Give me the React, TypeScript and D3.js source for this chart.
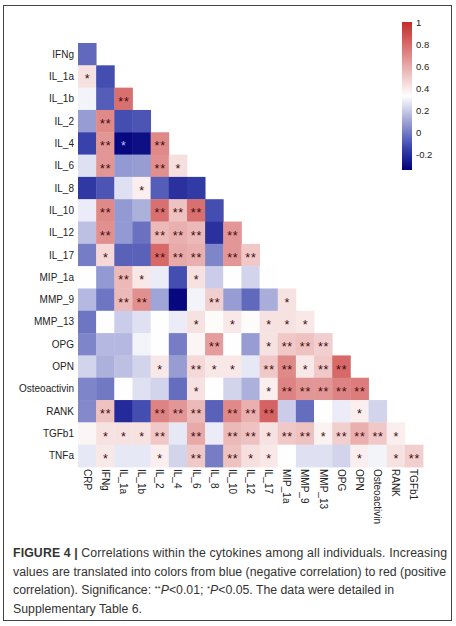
import * as d3 from 'd3';

// variable names, order as in the figure
const vars = [
  'CRP', 'IFNg', 'IL_1a', 'IL_1b', 'IL_2', 'IL_4', 'IL_6', 'IL_8', 'IL_10', 'IL_12',
  'IL_17', 'MIP_1a', 'MMP_9', 'MMP_13', 'OPG', 'OPN', 'Osteoactivin', 'RANK', 'TGFb1', 'TNFa',
];

// lower triangle, row i (vars[i + 1]) has i + 1 values against vars[0..i]
const corrRows: number[][] = [
  [-0.05],
  [0.42, -0.12],
  [0.3, -0.08, 0.78],
  [0.08, 0.7, -0.12, -0.1],
  [-0.15, 0.66, -0.32, -0.3, 0.7],
  [0.25, 0.66, 0.07, 0.08, 0.68, 0.43],
  [-0.18, -0.1, 0.25, 0.38, -0.08, -0.2, -0.17],
  [0.28, 0.7, 0.07, 0.13, 0.78, 0.52, 0.78, -0.12],
  [0.17, 0.68, 0.07, -0.03, 0.55, 0.58, 0.55, -0.2, 0.66],
  [0.0, 0.45, -0.07, -0.07, 0.8, 0.6, 0.58, 0.02, 0.66, 0.5],
  [0.33, 0.07, 0.55, 0.4, 0.28, -0.12, 0.42, 0.2, 0.33, 0.22, 0.33],
  [0.15, -0.02, 0.55, 0.68, 0.1, -0.32, 0.3, 0.48, 0.08, -0.05, 0.12, 0.42],
  [-0.02, 0.33, 0.2, 0.25, 0.33, 0.28, 0.42, 0.34, 0.4, 0.34, 0.42, 0.42, 0.4],
  [0.02, 0.15, 0.15, 0.3, 0.33, 0.0, 0.36, 0.64, 0.33, 0.08, 0.42, 0.5, 0.52, 0.48],
  [0.22, 0.13, 0.17, 0.22, 0.4, 0.08, 0.45, 0.4, 0.4, 0.27, 0.5, 0.7, 0.4, 0.5, 0.8],
  [0.02, -0.01, 0.33, 0.25, 0.22, -0.04, 0.42, 0.33, 0.22, 0.13, 0.38, 0.72, 0.66, 0.66, 0.72, 0.74],
  [0.03, 0.52, -0.22, -0.12, 0.72, 0.66, 0.55, -0.07, 0.7, 0.58, 0.82, 0.2, -0.04, 0.33, 0.28, 0.38, 0.22],
  [0.36, 0.42, 0.42, 0.42, 0.5, 0.27, 0.6, 0.28, 0.55, 0.52, 0.42, 0.5, 0.52, 0.37, 0.48, 0.58, 0.5, 0.38],
  [0.27, 0.4, 0.27, 0.27, 0.38, 0.22, 0.5, 0.0, 0.52, 0.43, 0.4, 0.33, 0.25, 0.25, 0.22, 0.38, 0.3, 0.42, 0.48],
];

// significance marks, same layout
const sigRows: string[][] = [
  [''],
  ['*', ''],
  ['', '', '**'],
  ['', '**', '', ''],
  ['', '**', '*', '', '**'],
  ['', '**', '', '', '**', '*'],
  ['', '', '', '*', '', '', ''],
  ['', '**', '', '', '**', '**', '**', ''],
  ['', '**', '', '', '**', '**', '**', '', '**'],
  ['', '*', '', '', '**', '**', '**', '', '**', '**'],
  ['', '', '**', '*', '', '', '*', '', '', '', ''],
  ['', '', '**', '**', '', '', '', '**', '', '', '', '*'],
  ['', '', '', '', '', '', '*', '', '*', '', '*', '*', '*'],
  ['', '', '', '', '', '', '', '**', '', '', '*', '**', '**', '**'],
  ['', '', '', '', '*', '', '**', '*', '*', '', '**', '**', '*', '**', '**'],
  ['', '', '', '', '', '', '*', '', '', '', '*', '**', '**', '**', '**', '**'],
  ['', '**', '', '', '**', '**', '**', '', '**', '**', '**', '', '', '', '', '*', ''],
  ['', '*', '*', '*', '**', '', '**', '', '**', '**', '*', '**', '**', '*', '**', '**', '**', '*'],
  ['', '*', '', '', '*', '', '**', '', '**', '*', '*', '', '', '', '', '*', '', '*', '**'],
];

const legendTicks = [-0.2, 0, 0.2, 0.4, 0.6, 0.8, 1];
const valueRange = [-0.345, 1];

const W = 456;
const H = 626;
const font = '"Liberation Sans", Arial, sans-serif';

export default function App() {
  const rowNames = vars.slice(1);
  const colNames = vars.slice(0, -1);

  const x = d3.scaleBand<string>().domain(colNames).range([78, 423]).padding(0);
  const y = d3.scaleBand<string>().domain(rowNames).range([43, 467]).padding(0);

  const [lo, hi] = valueRange;
  const mid = (lo + hi) / 2;
  const color = d3
    .scaleLinear<string>()
    .domain([lo, lo + 0.3 * (mid - lo), mid, hi])
    .range(['#00007a', '#3a44ac', '#ffffff', '#c62a2a'])
    .interpolate(d3.interpolateRgb);

  const cells = corrRows.flatMap((row, i) =>
    row.map((v, j) => ({ r: rowNames[i], c: colNames[j], v, s: sigRows[i][j] }))
  );

  const legY = d3.scaleLinear().domain(valueRange).range([170, 22]);
  const stops = d3.range(0, 1.0001, 0.05).map(t => ({
    off: t,
    col: color(hi - t * (hi - lo)),
  }));

  return (
    <svg width={W} height={H} style={{ position: 'absolute', left: 0, top: 0, background: '#fff' }}>
      <defs>
        <linearGradient id="leg" x1="0" y1="0" x2="0" y2="1">
          {stops.map((s, i) => (
            <stop key={i} offset={s.off} stopColor={s.col} />
          ))}
        </linearGradient>
      </defs>
      <rect x={3.5} y={5.5} width={448} height={615} fill="#fff" stroke="#444" strokeWidth={1} />

      {/* heatmap cells */}
      {cells.map((d, i) => (
        <rect
          key={i}
          x={x(d.c)}
          y={y(d.r)}
          width={x.bandwidth() + 0.4}
          height={y.bandwidth() + 0.4}
          fill={color(d.v)}
        />
      ))}
      {cells
        .filter(d => d.s)
        .map((d, i) => (
          <text
            key={'s' + i}
            x={(x(d.c) as number) + x.bandwidth() / 2 + 0.5}
            y={(y(d.r) as number) + y.bandwidth() / 2 + 7}
            textAnchor="middle"
            fontFamily={font}
            fontSize={12.5}
            letterSpacing={0.8}
            fill={d.v < -0.2 ? '#b4c2ff' : '#3e0a0a'}
          >
            {d.s}
          </text>
        ))}

      {/* row labels */}
      {rowNames.map(n => (
        <text
          key={n}
          x={74}
          y={(y(n) as number) + y.bandwidth() / 2}
          textAnchor="end"
          dominantBaseline="central"
          fontFamily={font}
          fontSize={10}
          fill="#222"
        >
          {n}
        </text>
      ))}

      {/* column labels */}
      {colNames.map(n => (
        <text
          key={n}
          transform={`translate(${(x(n) as number) + x.bandwidth() / 2},469) rotate(90)`}
          textAnchor="start"
          dominantBaseline="central"
          fontFamily={font}
          fontSize={10}
          fill="#222"
        >
          {n}
        </text>
      ))}

      {/* colour legend */}
      <rect x={402} y={legY(hi)} width={10} height={legY(lo) - legY(hi)} fill="url(#leg)" />
      {legendTicks.map(t => (
        <text
          key={t}
          x={416}
          y={legY(t)}
          dominantBaseline="central"
          fontFamily={font}
          fontSize={9.5}
          fill="#222"
        >
          {t}
        </text>
      ))}

      {/* caption */}
      <g fontFamily={font} fontSize={12.3} fill="#333">
        <text x={13} y={557} textLength={434} lengthAdjust="spacing">
          <tspan fontWeight="bold">FIGURE 4 |</tspan>
          <tspan> Correlations within the cytokines among all individuals. Increasing</tspan>
        </text>
        <text x={13} y={575.5} textLength={433} lengthAdjust="spacing">
          values are translated into colors from blue (negative correlation) to red (positive
        </text>
        <text x={13} y={594}>
          <tspan>correlation). Significance: </tspan>
          <tspan fontSize={8} dy={-3}>**</tspan>
          <tspan fontStyle="italic" dy={3}>P</tspan>
          <tspan>{'<0.01; '}</tspan>
          <tspan fontSize={8} dy={-3}>*</tspan>
          <tspan fontStyle="italic" dy={3}>P</tspan>
          <tspan>{'<0.05. The data were detailed in'}</tspan>
        </text>
        <text x={13} y={612.5}>
          Supplementary Table 6.
        </text>
      </g>
    </svg>
  );
}
